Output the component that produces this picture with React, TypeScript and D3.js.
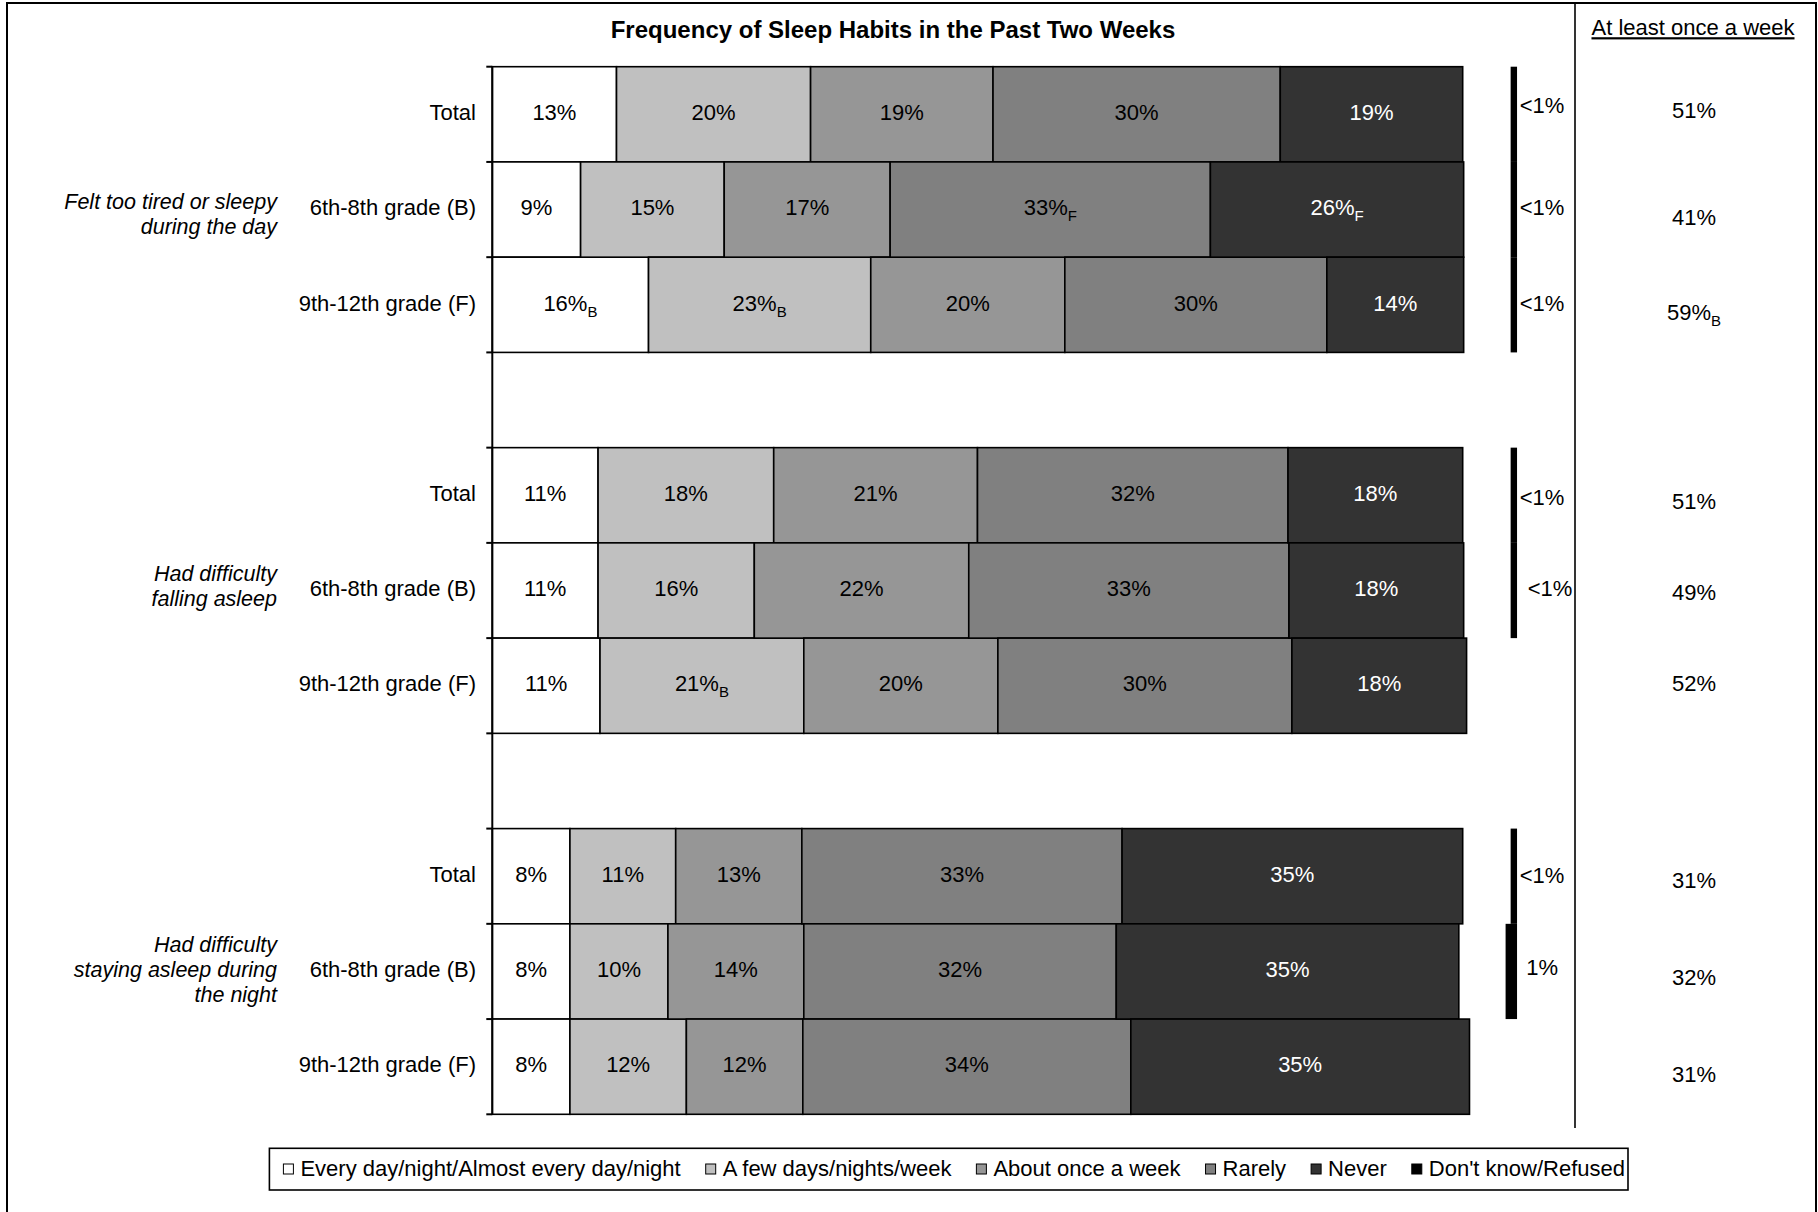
import React, { useEffect, useRef } from "react";
import * as d3 from "d3";

const FONT = "'Liberation Sans', Arial, Helvetica, sans-serif";

const title = "Frequency of Sleep Habits in the Past Two Weeks";
const sideHeader = "At least once a week";

const groupLabels = [
  ["Felt too tired or sleepy", "during the day"],
  ["Had difficulty", "falling asleep"],
  ["Had difficulty", "staying asleep during", "the night"],
];
const rowLabels = ["Total", "6th-8th grade (B)", "9th-12th grade (F)"];

const seriesKeys = ["everyDay", "fewDays", "onceWeek", "rarely", "never"];
const seriesNames = [
  "Every day/night/Almost every day/night",
  "A few days/nights/week",
  "About once a week",
  "Rarely",
  "Never",
  "Don't know/Refused",
];
const seriesColors = ["#FFFFFF", "#C0C0C0", "#969696", "#808080", "#333333", "#000000"];
const seriesTextColors = ["#000", "#000", "#000", "#000", "#FFF"];

// bar widths in percent, rows: G1 Total, B, F, G2 Total, B, F, G3 Total, B, F
const everyDay = [12.8, 9.1, 16.1, 10.9, 10.9, 11.1, 8.0, 8.0, 8.0];
const fewDays = [20.0, 14.8, 22.9, 18.1, 16.1, 21.0, 10.9, 10.1, 12.0];
const onceWeek = [18.8, 17.1, 20.0, 21.0, 22.1, 20.0, 13.0, 14.0, 12.0];
const rarely = [29.6, 33.0, 27.0, 32.0, 33.0, 30.3, 33.0, 32.2, 33.8];
const never = [18.8, 26.1, 14.1, 18.0, 18.0, 18.0, 35.1, 35.3, 34.9];
const dontKnow = [0.66, 0.66, 0.66, 0.66, 0.66, 0, 0.66, 1.18, 0];

// printed labels ("_X" = subscript)
const everyDayText = ["13%", "9%", "16%_B", "11%", "11%", "11%", "8%", "8%", "8%"];
const fewDaysText = ["20%", "15%", "23%_B", "18%", "16%", "21%_B", "11%", "10%", "12%"];
const onceWeekText = ["19%", "17%", "20%", "21%", "22%", "20%", "13%", "14%", "12%"];
const rarelyText = ["30%", "33%_F", "30%", "32%", "33%", "30%", "33%", "32%", "34%"];
const neverText = ["19%", "26%_F", "14%", "18%", "18%", "18%", "35%", "35%", "35%"];
const dontKnowText = ["<1%", "<1%", "<1%", "<1%", "<1%", "", "<1%", "1%", ""];
const atLeastWeeklyText = ["51%", "41%", "59%_B", "51%", "49%", "52%", "31%", "32%", "31%"];

// layout nudges (px) for hand-placed text boxes in the original
const groupLabelNudge = [6, -3, 0];
const weeklyNudgeY = [-2, 10, 9, 8, 4, 0, 6, 8, 10];
const dkNudgeY = [-7, 0, 0, 4, 0, 0, 1, -2, 0];
const dkNudgeX = [0, 0, 0, 0, 8, 0, 0, 0, 0];

const DK_END = 105.6;
const FS = 22;

export default function App() {
  const ref = useRef<SVGSVGElement>(null);

  useEffect(() => {
    const svg = d3.select(ref.current);
    svg.selectAll("*").remove();
    svg.attr("font-family", FONT);

    const slots: string[] = [];
    groupLabels.forEach((_, g) => {
      rowLabels.forEach((_, r) => slots.push(`g${g}r${r}`));
      if (g < groupLabels.length - 1) slots.push(`gap${g}`);
    });
    const y = d3.scaleBand<string>().domain(slots).range([66.7, 1114.3]).paddingInner(0).paddingOuter(0);
    const x = d3.scaleLinear().domain([0, 100]).range([492.3, 1462.7]);
    const bw = y.bandwidth();

    const rows = everyDay.map((_, i) => ({
      key: `g${Math.floor(i / 3)}r${i % 3}`,
      everyDay: everyDay[i],
      fewDays: fewDays[i],
      onceWeek: onceWeek[i],
      rarely: rarely[i],
      never: never[i],
    }));
    const texts = [everyDayText, fewDaysText, onceWeekText, rarelyText, neverText];

    const addLabel = (
      sel: any,
      str: string,
      tx: number,
      cy: number,
      anchor: string,
      color: string,
      size = FS,
      weight = "normal",
      style = "normal"
    ) => {
      const [main, sub] = str.split("_");
      const t = sel
        .append("text")
        .attr("x", tx)
        .attr("y", cy + size * 0.26)
        .attr("text-anchor", anchor)
        .attr("fill", color)
        .attr("font-size", size)
        .attr("font-weight", weight)
        .attr("font-style", style);
      t.append("tspan").text(main);
      if (sub) {
        t.append("tspan").attr("font-size", 15).attr("dy", 6).text(sub);
      }
      return t;
    };

    // outer border
    svg
      .append("rect")
      .attr("x", 7)
      .attr("y", 3)
      .attr("width", 1809)
      .attr("height", 1400)
      .attr("fill", "none")
      .attr("stroke", "#000")
      .attr("stroke-width", 2);

    // divider
    svg
      .append("line")
      .attr("x1", 1575)
      .attr("x2", 1575)
      .attr("y1", 3)
      .attr("y2", 1128)
      .attr("stroke", "#000")
      .attr("stroke-width", 1.6);

    // title
    addLabel(svg, title, 893, 31.5, "middle", "#000", 24, "bold");
    addLabel(svg, sideHeader, 1693, 29.5, "middle", "#000", FS).attr("text-decoration", "underline");

    // stacked bars
    const stack = d3.stack<any>().keys(seriesKeys)(rows);
    const barG = svg.append("g");
    stack.forEach((layer, si) => {
      layer.forEach((d: any, i: number) => {
        const key = rows[i].key;
        const x0 = x(d[0]);
        const x1 = x(d[1]);
        const yy = y(key)!;
        barG
          .append("rect")
          .attr("x", x0)
          .attr("y", yy)
          .attr("width", x1 - x0)
          .attr("height", bw)
          .attr("fill", seriesColors[si])
          .attr("stroke", "#000")
          .attr("stroke-width", 1.6);
        addLabel(barG, texts[si][i], (x0 + x1) / 2, yy + bw / 2, "middle", seriesTextColors[si]);
      });
    });

    // don't know bars
    dontKnow.forEach((v, i) => {
      const key = rows[i].key;
      const yy = y(key)!;
      if (v > 0) {
        svg
          .append("rect")
          .attr("x", x(DK_END - v))
          .attr("y", yy)
          .attr("width", x(DK_END) - x(DK_END - v))
          .attr("height", bw)
          .attr("fill", seriesColors[5]);
      }
      if (dontKnowText[i]) {
        addLabel(
          svg,
          dontKnowText[i],
          x(DK_END) + 25 + dkNudgeX[i],
          yy + bw / 2 + dkNudgeY[i],
          "middle",
          "#000"
        );
      }
    });

    // axis line with ticks at band boundaries
    const axisX = x(0);
    svg
      .append("line")
      .attr("x1", axisX)
      .attr("x2", axisX)
      .attr("y1", y.range()[0])
      .attr("y2", y.range()[1])
      .attr("stroke", "#000")
      .attr("stroke-width", 2);
    const bounds = slots.map((s) => y(s)!).concat([y.range()[1]]);
    svg
      .append("g")
      .selectAll("line")
      .data(bounds)
      .join("line")
      .attr("x1", axisX - 6)
      .attr("x2", axisX)
      .attr("y1", (d) => d)
      .attr("y2", (d) => d)
      .attr("stroke", "#000")
      .attr("stroke-width", 2);

    // row labels and weekly column
    rows.forEach((r, i) => {
      const yy = y(r.key)! + bw / 2;
      addLabel(svg, rowLabels[i % 3], 476, yy, "end", "#000");
      addLabel(svg, atLeastWeeklyText[i], 1694, yy + weeklyNudgeY[i], "middle", "#000");
    });

    // group labels
    groupLabels.forEach((lines, g) => {
      const cy = y(`g${g}r1`)! + bw / 2 + groupLabelNudge[g];
      const lh = 25;
      lines.forEach((ln, k) => {
        addLabel(svg, ln, 277, cy - ((lines.length - 1) / 2) * lh + k * lh, "end", "#000", 21.5, "normal", "italic");
      });
    });

    // legend
    const lg = svg.append("g");
    const legendCy = 1169;
    const gap = 25;
    let cx = 0;
    seriesNames.forEach((name, i) => {
      const t = lg
        .append("text")
        .attr("x", cx + 17)
        .attr("y", legendCy + FS * 0.33)
        .attr("font-size", FS)
        .attr("fill", "#000")
        .text(name);
      const w = (t.node() as SVGTextElement).getComputedTextLength();
      lg.append("rect")
        .attr("x", cx)
        .attr("y", legendCy - 5)
        .attr("width", 10)
        .attr("height", 10)
        .attr("fill", seriesColors[i])
        .attr("stroke", "#000")
        .attr("stroke-width", 1);
      cx = cx + 17 + w + gap;
    });
    const contentW = cx - gap;
    const boxW = contentW + 14 + 3;
    const boxCx = 948.7;
    const boxX = boxCx - boxW / 2;
    lg.attr("transform", `translate(${boxX + 14},0)`);
    svg
      .append("rect")
      .attr("x", boxX)
      .attr("y", 1148.3)
      .attr("width", boxW)
      .attr("height", 41.7)
      .attr("fill", "none")
      .attr("stroke", "#000")
      .attr("stroke-width", 1.6);
  }, []);

  return (
    <svg
      ref={ref}
      width={1818}
      height={1212}
      style={{ position: "absolute", left: 0, top: 0, background: "#fff" }}
    />
  );
}
